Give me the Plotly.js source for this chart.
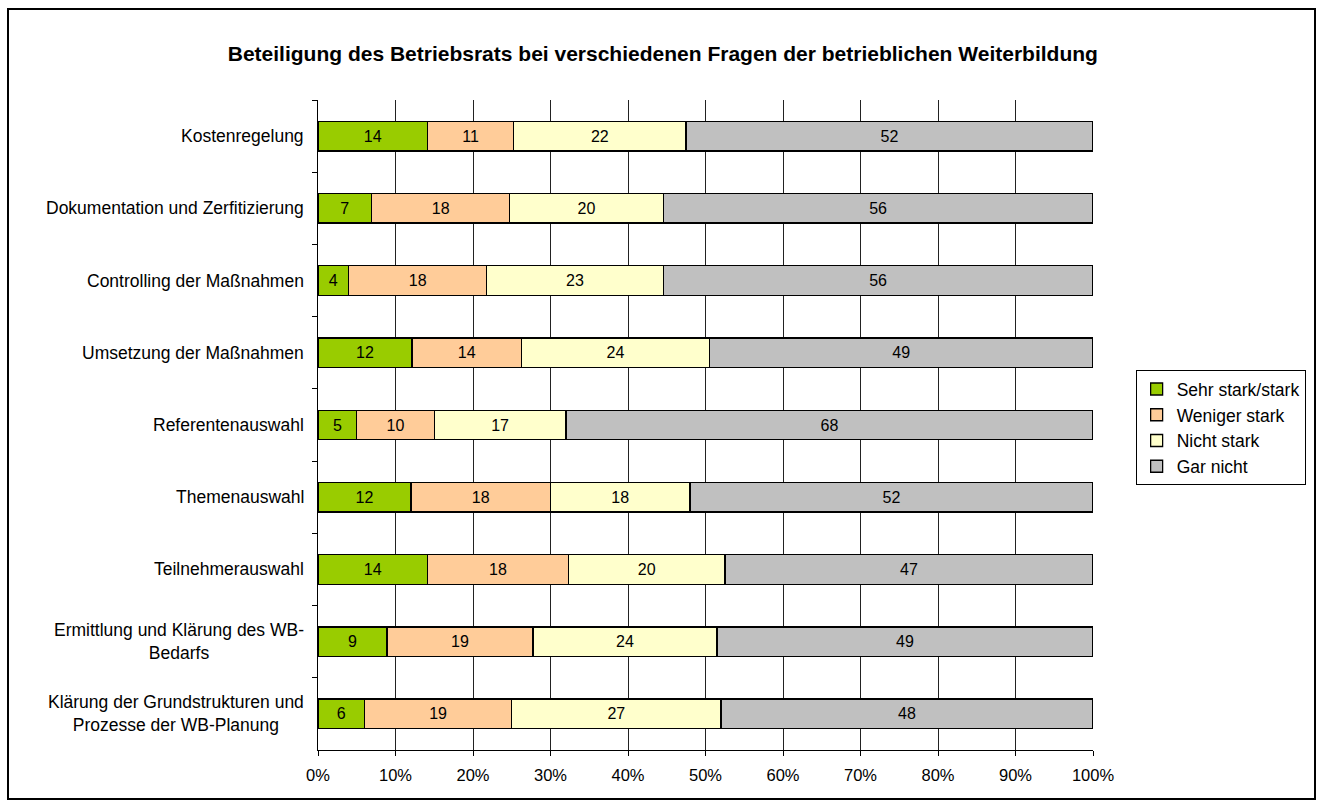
<!DOCTYPE html>
<html>
<head>
<meta charset="utf-8">
<script src="https://cdn.plot.ly/plotly-3.0.1.min.js"></script>
<style>
html,body{margin:0;padding:0;background:#fff;}
#chart{width:1323px;height:807px;}
</style>
</head>
<body>
<div id="chart"></div>
<script>
const categories = [
  "Kostenregelung",
  "Dokumentation und Zerfitizierung",
  "Controlling der Maßnahmen",
  "Umsetzung der Maßnahmen",
  "Referentenauswahl",
  "Themenauswahl",
  "Teilnehmerauswahl",
  "Ermittlung und Klärung des WB-<br>Bedarfs",
  "Klärung der Grundstrukturen und<br>Prozesse der WB-Planung"
];
const seriesNames = ["Sehr stark/stark", "Weniger stark", "Nicht stark", "Gar nicht"];
const sehrStark   = [14, 7, 4, 12, 5, 12, 14, 9, 6];
const wenigerStark = [11, 18, 18, 14, 10, 18, 18, 19, 19];
const nichtStark  = [22, 20, 23, 24, 17, 18, 20, 24, 27];
const garNicht    = [52, 56, 56, 49, 68, 52, 47, 49, 48];
const colors = ["#99CC00", "#FFCC99", "#FFFFCC", "#C0C0C0"];
const xTickVals = [0,10,20,30,40,50,60,70,80,90,100];

const FONT = "Arial, 'Liberation Sans', Helvetica, sans-serif";
const allSeries = [sehrStark, wenigerStark, nichtStark, garNicht];
const traces = allSeries.map((vals, i) => ({
  type: "bar",
  orientation: "h",
  name: seriesNames[i],
  y: categories,
  x: vals,
  text: vals.map(String),
  textposition: "inside",
  insidetextanchor: "middle",
  textangle: 0,
  constraintext: "none",
  textfont: {family: FONT, size: 16, color: "#000"},
  marker: {color: colors[i], line: {color: "#000", width: 1.3}},
  hoverinfo: "skip"
}));

const catAnnotations = categories.map(c => ({
  xref: "paper", yref: "y",
  x: -0.016, y: c,
  xanchor: "right", yanchor: "middle",
  align: "center",
  text: c,
  showarrow: false,
  font: {family: FONT, size: 17.5, color: "#000"}
}));

const layout = {
  width: 1323,
  height: 807,
  barmode: "stack",
  barnorm: "percent",
  bargap: 0.59,
  paper_bgcolor: "#fff",
  plot_bgcolor: "#fff",
  margin: {l: 318, r: 230, t: 100, b: 57},
  font: {family: FONT, size: 16, color: "#000"},
  title: {
    text: "<b>Beteiligung des Betriebsrats bei verschiedenen Fragen der betrieblichen Weiterbildung</b>",
    font: {family: FONT, size: 21, color: "#000"},
    x: 0.501, xanchor: "center",
    y: 0.934, yanchor: "middle"
  },
  xaxis: {
    range: [0, 100],
    tickvals: xTickVals,
    ticktext: xTickVals.map(v => v + "%"),
    showgrid: true,
    gridcolor: "#222",
    gridwidth: 1,
    showline: true,
    linecolor: "#000",
    linewidth: 1,
    ticks: "outside",
    ticklen: 5,
    tickcolor: "#000",
    ticklabelstandoff: 5,
    zeroline: false,
    tickfont: {family: FONT, size: 16.5, color: "#000"},
    fixedrange: true
  },
  yaxis: {
    type: "category",
    autorange: "reversed",
    showgrid: false,
    showline: true,
    linecolor: "#000",
    linewidth: 1,
    ticks: "outside",
    tickson: "boundaries",
    ticklen: 5,
    tickcolor: "#000",
    showticklabels: false,
    fixedrange: true
  },
  annotations: catAnnotations,
  showlegend: true,
  legend: {
    x: 1.055, xanchor: "left",
    y: 0.496, yanchor: "middle",
    bordercolor: "#000",
    borderwidth: 1,
    bgcolor: "#fff",
    traceorder: "normal",
    itemwidth: 30,
    font: {family: FONT, size: 17.5, color: "#000"},
    itemclick: false,
    itemdoubleclick: false
  },
  shapes: [{
    type: "rect",
    xref: "paper", yref: "paper",
    x0: (8 - 318) / 775, x1: (1315 - 318) / 775,
    y0: (750 - 799) / 650, y1: (750 - 9) / 650,
    line: {color: "#000", width: 2},
    fillcolor: "rgba(0,0,0,0)",
    layer: "above"
  }],
  hovermode: false
};

Plotly.newPlot("chart", traces, layout, {displayModeBar: false, staticPlot: true});
</script>
</body>
</html>
